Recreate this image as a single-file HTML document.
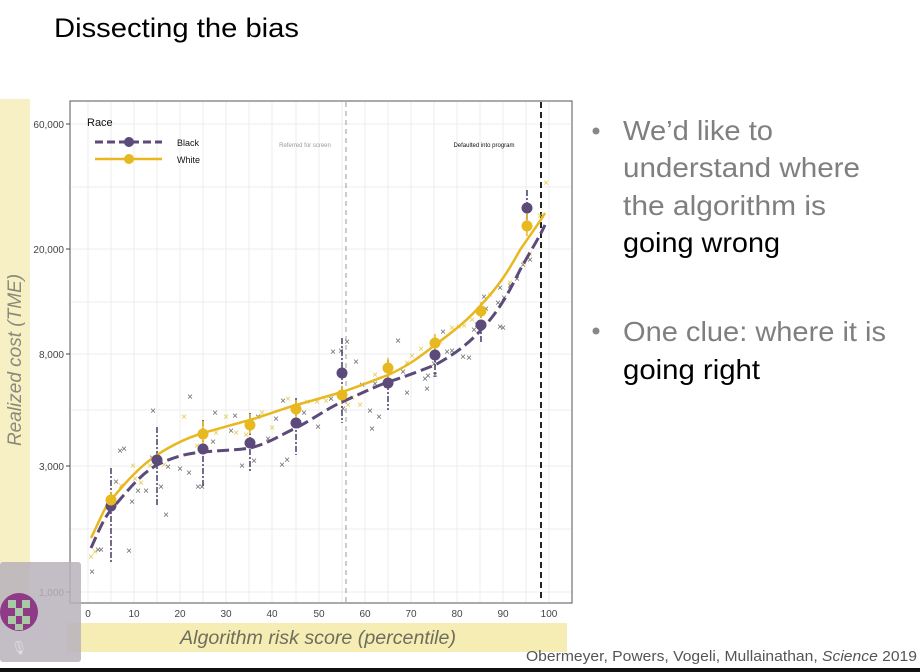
<!DOCTYPE html>
<html><head><meta charset="utf-8"><style>
html,body{margin:0;padding:0;background:#fff;width:920px;height:672px;overflow:hidden}
svg{display:block}
</style></head><body>
<svg width="920" height="672" viewBox="0 0 920 672" xmlns="http://www.w3.org/2000/svg" font-family="Liberation Sans, sans-serif">
<rect width="920" height="672" fill="#fff"/>
<text x="54" y="37" font-size="27" fill="#000" textLength="245" lengthAdjust="spacingAndGlyphs">Dissecting the bias</text>
<!-- left yellow band -->
<rect x="0" y="99" width="30" height="505" fill="#f6f0c4"/>
<text transform="translate(21,360) rotate(-90)" text-anchor="middle" font-size="19" font-style="italic" fill="#8a8a7a">Realized cost (TME)</text>
<!-- panel -->
<rect x="70" y="101" width="502" height="502" fill="#fff" stroke="#555" stroke-width="1"/>
<g stroke="#ececec" stroke-width="1">
<line x1="71" x2="571" y1="124" y2="124"/><line x1="71" x2="571" y1="249" y2="249"/><line x1="71" x2="571" y1="354" y2="354"/><line x1="71" x2="571" y1="466" y2="466"/><line x1="71" x2="571" y1="592" y2="592"/>
<line x1="71" x2="571" y1="187" y2="187"/><line x1="71" x2="571" y1="302" y2="302"/><line x1="71" x2="571" y1="410" y2="410"/><line x1="71" x2="571" y1="529" y2="529"/>
<line y1="102" y2="602" x1="88" x2="88"/><line y1="102" y2="602" x1="134" x2="134"/><line y1="102" y2="602" x1="180" x2="180"/><line y1="102" y2="602" x1="226" x2="226"/><line y1="102" y2="602" x1="272" x2="272"/><line y1="102" y2="602" x1="319" x2="319"/><line y1="102" y2="602" x1="365" x2="365"/><line y1="102" y2="602" x1="411" x2="411"/><line y1="102" y2="602" x1="457" x2="457"/><line y1="102" y2="602" x1="503" x2="503"/><line y1="102" y2="602" x1="549" x2="549"/>
<line y1="102" y2="602" x1="111" x2="111"/><line y1="102" y2="602" x1="157" x2="157"/><line y1="102" y2="602" x1="203" x2="203"/><line y1="102" y2="602" x1="249" x2="249"/><line y1="102" y2="602" x1="296" x2="296"/><line y1="102" y2="602" x1="342" x2="342"/><line y1="102" y2="602" x1="388" x2="388"/><line y1="102" y2="602" x1="434" x2="434"/><line y1="102" y2="602" x1="480" x2="480"/><line y1="102" y2="602" x1="526" x2="526"/>
</g>
<g font-size="10" fill="#444" text-anchor="end">
<text x="64" y="128">60,000</text><text x="64" y="253">20,000</text><text x="64" y="358">8,000</text><text x="64" y="470">3,000</text><text x="64" y="596">1,000</text>
</g>
<g stroke="#444"><line x1="66" x2="70" y1="124" y2="124"/><line x1="66" x2="70" y1="249" y2="249"/><line x1="66" x2="70" y1="354" y2="354"/><line x1="66" x2="70" y1="466" y2="466"/><line x1="66" x2="70" y1="592" y2="592"/></g>
<g font-size="10" fill="#444" text-anchor="middle">
<text x="88" y="617">0</text><text x="134" y="617">10</text><text x="180" y="617">20</text><text x="226" y="617">30</text><text x="272" y="617">40</text><text x="319" y="617">50</text><text x="365" y="617">60</text><text x="411" y="617">70</text><text x="457" y="617">80</text><text x="503" y="617">90</text><text x="549" y="617">100</text>
</g>
<!-- thresholds -->
<line x1="346" x2="346" y1="102" y2="602" stroke="#999" stroke-dasharray="5,4"/>
<line x1="541" x2="541" y1="102" y2="602" stroke="#222" stroke-width="2" stroke-dasharray="6,4"/>
<text x="305" y="147" font-size="6" fill="#999" text-anchor="middle">Referred for screen</text>
<text x="484" y="147" font-size="6" fill="#111" text-anchor="middle">Defaulted into program</text>
<!-- legend -->
<text x="87" y="126" font-size="11" fill="#111">Race</text>
<line x1="95" x2="162" y1="142" y2="142" stroke="#5b4a7a" stroke-width="3" stroke-dasharray="8,4"/>
<circle cx="129" cy="142" r="5" fill="#5b4a7a"/>
<line x1="95" x2="162" y1="159" y2="159" stroke="#e8b820" stroke-width="2.5"/>
<circle cx="129" cy="159" r="5" fill="#e8b820"/>
<text x="177" y="146" font-size="9" fill="#111">Black</text><text x="177" y="163" font-size="9" fill="#111">White</text>
<!-- scatter x's -->
<g font-size="10" fill="#666" text-anchor="middle">
<text x="92" y="575">×</text><text x="98" y="553">×</text><text x="101" y="553">×</text><text x="129" y="554">×</text><text x="120" y="454">×</text><text x="124" y="452">×</text><text x="116" y="485">×</text><text x="132" y="505">×</text><text x="138" y="494">×</text><text x="146" y="494">×</text><text x="153" y="414">×</text><text x="166" y="518">×</text><text x="168" y="470">×</text><text x="161" y="490">×</text><text x="152" y="461">×</text><text x="180" y="472">×</text><text x="190" y="400">×</text><text x="198" y="490">×</text><text x="202" y="490">×</text><text x="189" y="476">×</text><text x="215" y="416">×</text><text x="213" y="445">×</text><text x="231" y="434">×</text><text x="235" y="419">×</text><text x="242" y="469">×</text><text x="258" y="420">×</text><text x="254" y="464">×</text><text x="268" y="442">×</text><text x="276" y="422">×</text><text x="282" y="468">×</text><text x="287" y="463">×</text><text x="283" y="404">×</text><text x="304" y="416">×</text><text x="318" y="430">×</text><text x="333" y="355">×</text><text x="341" y="354">×</text><text x="347" y="345">×</text><text x="344" y="379">×</text><text x="356" y="365">×</text><text x="331" y="402">×</text><text x="343" y="412">×</text><text x="362" y="388">×</text><text x="370" y="414">×</text><text x="372" y="432">×</text><text x="379" y="420">×</text><text x="398" y="344">×</text><text x="403" y="375">×</text><text x="407" y="396">×</text><text x="425" y="382">×</text><text x="428" y="379">×</text><text x="434" y="367">×</text><text x="443" y="335">×</text><text x="447" y="355">×</text><text x="452" y="354">×</text><text x="469" y="361">×</text><text x="474" y="333">×</text><text x="477" y="328">×</text><text x="486" y="312">×</text><text x="500" y="330">×</text><text x="503" y="331">×</text><text x="498" y="306">×</text><text x="504" y="301">×</text><text x="510" y="289">×</text><text x="517" y="282">×</text><text x="523" y="268">×</text><text x="530" y="263">×</text><text x="500" y="291">×</text><text x="484" y="300">×</text><text x="463" y="360">×</text><text x="427" y="392">×</text><text x="435" y="378">×</text><text x="386" y="389">×</text><text x="375" y="387">×</text>
</g>
<g font-size="10" fill="#e6c84a" text-anchor="middle">
<text x="91" y="560">×</text><text x="95" y="555">×</text><text x="133" y="469">×</text><text x="135" y="482">×</text><text x="121" y="489">×</text><text x="141" y="486">×</text><text x="150" y="469">×</text><text x="164" y="468">×</text><text x="184" y="420">×</text><text x="197" y="449">×</text><text x="216" y="436">×</text><text x="226" y="420">×</text><text x="236" y="436">×</text><text x="246" y="438">×</text><text x="262" y="416">×</text><text x="272" y="431">×</text><text x="288" y="402">×</text><text x="307" y="405">×</text><text x="317" y="405">×</text><text x="326" y="404">×</text><text x="348" y="408">×</text><text x="352" y="401">×</text><text x="360" y="408">×</text><text x="375" y="378">×</text><text x="385" y="371">×</text><text x="407" y="366">×</text><text x="412" y="359">×</text><text x="421" y="352">×</text><text x="440" y="345">×</text><text x="452" y="331">×</text><text x="459" y="330">×</text><text x="464" y="329">×</text><text x="472" y="323">×</text><text x="490" y="298">×</text><text x="510" y="286">×</text><text x="524" y="266">×</text><text x="530" y="257">×</text><text x="540" y="219">×</text><text x="546" y="186">×</text>
</g>
<!-- error bars -->
<g stroke="#4a3d63" stroke-width="1.5" stroke-dasharray="6,2,2,2">
<line x1="111" x2="111" y1="468" y2="563"/><line x1="157" x2="157" y1="427" y2="505"/><line x1="203" x2="203" y1="420" y2="487"/><line x1="250" x2="250" y1="413" y2="472"/><line x1="296" x2="296" y1="398" y2="455"/><line x1="342" x2="342" y1="338" y2="423"/><line x1="388" x2="388" y1="360" y2="410"/><line x1="435" x2="435" y1="340" y2="377"/><line x1="481" x2="481" y1="312" y2="344"/><line x1="527" x2="527" y1="190" y2="230"/>
</g>
<g stroke="#e8b820" stroke-width="1.5">
<line x1="111" x2="111" y1="492" y2="508"/><line x1="203" x2="203" y1="421" y2="446"/><line x1="250" x2="250" y1="414" y2="434"/><line x1="296" x2="296" y1="400" y2="418"/><line x1="342" x2="342" y1="386" y2="404"/><line x1="388" x2="388" y1="358" y2="378"/><line x1="435" x2="435" y1="334" y2="350"/><line x1="481" x2="481" y1="302" y2="318"/><line x1="527" x2="527" y1="212" y2="236"/>
</g>
<!-- curves -->
<path d="M91,538 C100,520 104,508 111,500 C125,483 140,466 157,455 C175,443 190,437 203,433 C225,427 238,423 250,420 C270,414 282,409 296,405 C315,400 328,396 342,392 C360,386 372,381 388,375 C410,365 422,355 435,345 C455,330 468,320 481,305 C500,285 510,268 520,250 C530,235 540,222 545,213" fill="none" stroke="#e8b820" stroke-width="2.5"/>
<path d="M91,548 C100,528 104,518 111,510 C125,494 140,474 157,465 C175,456 190,453 203,452 C225,450 238,450 250,448 C270,443 282,434 296,428 C315,418 328,408 342,402 C360,394 372,388 388,382 C410,375 422,370 435,365 C455,354 468,344 481,330 C500,310 510,290 520,270 C530,252 540,236 545,225" fill="none" stroke="#5b4a7a" stroke-width="3" stroke-dasharray="12,5"/>
<!-- points -->
<g fill="#5b4a7a"><circle cx="111" cy="506" r="5.5"/><circle cx="157" cy="460" r="5.5"/><circle cx="203" cy="449" r="5.5"/><circle cx="250" cy="443" r="5.5"/><circle cx="296" cy="423" r="5.5"/><circle cx="342" cy="373" r="5.5"/><circle cx="388" cy="383" r="5.5"/><circle cx="435" cy="355" r="5.5"/><circle cx="481" cy="325" r="5.5"/><circle cx="527" cy="208" r="5.5"/></g>
<g fill="#e8b820"><circle cx="111" cy="500" r="5.5"/><circle cx="203" cy="434" r="5.5"/><circle cx="250" cy="425" r="5.5"/><circle cx="296" cy="409" r="5.5"/><circle cx="342" cy="395" r="5.5"/><circle cx="388" cy="368" r="5.5"/><circle cx="435" cy="343" r="5.5"/><circle cx="481" cy="311" r="5.5"/><circle cx="527" cy="226" r="5.5"/></g>
<!-- x label band -->
<rect x="67" y="623" width="500" height="29" fill="#f3eaa6" opacity="0.85"/>
<text x="180" y="644" font-size="19" font-style="italic" fill="#6e6e5e" textLength="276" lengthAdjust="spacingAndGlyphs">Algorithm risk score (percentile)</text>
<!-- webcam box -->
<rect x="0" y="562" width="81" height="100" rx="3" fill="#b9b2bc" opacity="0.85"/>
<g>
<circle cx="19" cy="612" r="19" fill="#8e3a86"/>
<rect x="8" y="600" width="8" height="8" fill="#a8c8a6"/><rect x="22" y="600" width="8" height="8" fill="#a8c8a6"/><rect x="15" y="608" width="8" height="8" fill="#a8c8a6"/><rect x="8" y="616" width="8" height="8" fill="#a8c8a6"/><rect x="22" y="616" width="8" height="8" fill="#a8c8a6"/><rect x="15" y="624" width="8" height="6" fill="#a8c8a6"/>
</g>
<text x="19" y="652" font-size="13" fill="#ddd" text-anchor="middle">🎙</text>
<!-- citation -->
<text x="526" y="661" font-size="15" fill="#555" textLength="391" lengthAdjust="spacingAndGlyphs">Obermeyer, Powers, Vogeli, Mullainathan, <tspan font-style="italic">Science</tspan> 2019</text>
<rect x="0" y="668" width="920" height="4" fill="#111"/>
<!-- bullets -->
<g font-size="28" fill="#7f7f7f">
<circle cx="596" cy="131" r="3.5" fill="#888"/>
<text x="623" y="140" textLength="150" lengthAdjust="spacingAndGlyphs">We’d like to</text>
<text x="623" y="177" textLength="237" lengthAdjust="spacingAndGlyphs">understand where</text>
<text x="623" y="215" textLength="203" lengthAdjust="spacingAndGlyphs">the algorithm is</text>
<text x="623" y="252" fill="#000" textLength="157" lengthAdjust="spacingAndGlyphs">going wrong</text>
<circle cx="596" cy="331" r="3.5" fill="#888"/>
<text x="623" y="341" textLength="263" lengthAdjust="spacingAndGlyphs">One clue: where it is</text>
<text x="623" y="379" fill="#000" textLength="137" lengthAdjust="spacingAndGlyphs">going right</text>
</g>
</svg>
</body></html>
